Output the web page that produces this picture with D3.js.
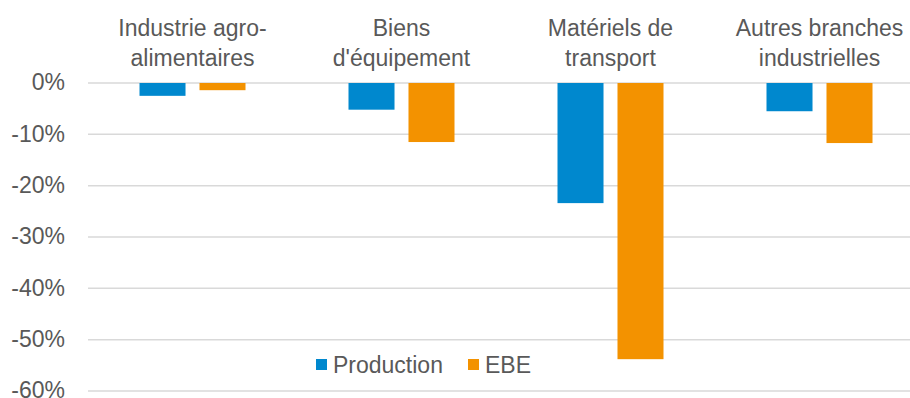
<!DOCTYPE html>
<html><head><meta charset="utf-8">
<script src="https://cdn.jsdelivr.net/npm/d3@7"></script>
<style>body{margin:0;background:#fff}svg{display:block;font-family:"Liberation Sans",Arial,sans-serif}</style>
</head><body><svg id="c" width="910" height="398"></svg>
<script>
const categories = [["Industrie agro-","alimentaires"],["Biens","d'équipement"],["Matériels de","transport"],["Autres branches","industrielles"]];
const seriesNames = ["Production","EBE"];
const production = [-2.5,-5.2,-23.4,-5.5];
const ebe = [-1.4,-11.5,-53.8,-11.7];
const yTicks = [0,-10,-20,-30,-40,-50,-60];
const colors = ["#0088ce","#f39200"];

const svg = d3.select("#c");
const x = d3.scaleBand().domain(d3.range(categories.length)).range([88,924]).paddingInner(0).paddingOuter(0);
const inner = d3.scaleBand().domain([0,1]).range([51.5, x.bandwidth()-51.5]).paddingInner(0.233);
const y = d3.scaleLinear().domain([-60,0]).range([391,83]);

// gridlines
svg.append("g").selectAll("line").data(yTicks).join("line")
  .attr("x1",88).attr("x2",910).attr("y1",d=>y(d)).attr("y2",d=>y(d))
  .attr("stroke","#d9d9d9").attr("stroke-width",1.5);

const yAxis = d3.axisLeft(y).tickValues(yTicks).tickFormat(d=>d+"%").tickSize(0).tickPadding(0);
const ga = svg.append("g").attr("transform","translate(65,0)").call(yAxis);
ga.select(".domain").remove();
ga.selectAll("text").attr("font-size",23).attr("fill","#595959").attr("font-family","Liberation Sans, Arial, sans-serif").attr("dy","0.3em");

const series = [production, ebe];
series.forEach((vals,si)=>{
  svg.append("g").selectAll("rect").data(vals).join("rect")
    .attr("x",(d,i)=>x(i)+inner(si))
    .attr("width",inner.bandwidth())
    .attr("y",d=>y(Math.max(0,d)))
    .attr("height",d=>Math.abs(y(d)-y(0)))
    .attr("fill",colors[si]);
});

// category labels
const cl = svg.append("g");
categories.forEach((lines,i)=>{
  const t = cl.append("text").attr("x",x(i)+x.bandwidth()/2).attr("y",36)
    .attr("text-anchor","middle").attr("font-size",23).attr("fill","#595959");
  lines.forEach((l,j)=>t.append("tspan").attr("x",x(i)+x.bandwidth()/2).attr("dy",j?30:0).text(l));
});

// legend
const lg = svg.append("g");
lg.append("rect").attr("x",308).attr("y",348).attr("width",236).attr("height",36).attr("fill","#fff");
const lx = [316,468];
seriesNames.forEach((n,i)=>{
  lg.append("rect").attr("x",lx[i]).attr("y",359).attr("width",11).attr("height",11).attr("fill",colors[i]);
  lg.append("text").attr("x",lx[i]+17).attr("y",373).attr("font-size",23).attr("fill","#595959").text(n);
});
</script></body></html>
